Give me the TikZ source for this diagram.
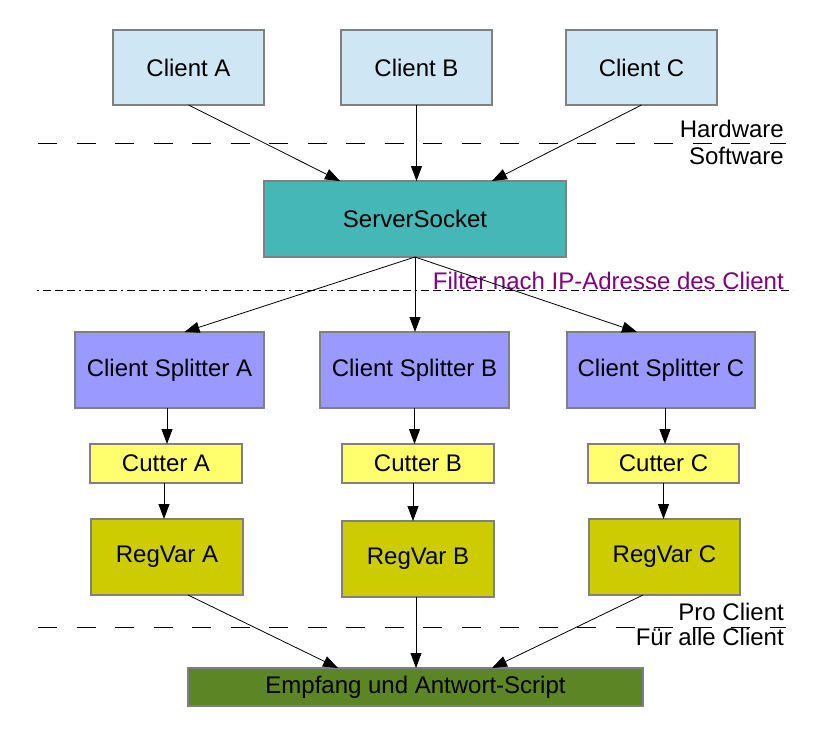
\documentclass[tikz,border=0pt]{standalone}
\usepackage{fontspec}
\setmainfont{Liberation Sans}
\usetikzlibrary{arrows.meta}
\definecolor{clientfill}{HTML}{CFE7F5}
\definecolor{serverfill}{HTML}{45B7B7}
\definecolor{splitfill}{HTML}{9999FF}
\definecolor{cutfill}{HTML}{FFFF6D}
\definecolor{regfill}{HTML}{CCCC00}
\definecolor{scriptfill}{HTML}{5C8526}
\definecolor{boxline}{HTML}{808080}
\definecolor{filtertext}{HTML}{800080}
\begin{document}
\begin{tikzpicture}[x=1pt,y=-1pt,
  font=\fontsize{24pt}{28pt}\selectfont,
  box/.style={draw=boxline,line width=1.2pt,inner sep=0pt,outer sep=0pt,anchor=center},
  clientbox/.style={box,fill=clientfill,minimum width=151pt,minimum height=75pt},
  serverbox/.style={box,fill=serverfill,minimum width=302pt,minimum height=76pt},
  splitbox/.style={box,fill=splitfill,minimum width=189pt,minimum height=76pt},
  cutbox/.style={box,fill=cutfill,minimum width=152pt,minimum height=39pt},
  regbox/.style={box,fill=regfill,minimum width=152pt,minimum height=76pt},
  scriptbox/.style={box,fill=scriptfill,minimum width=455pt,minimum height=38pt},
  conn/.style={line width=0.8pt,-{Triangle[length=15pt,width=11pt]}},
  sepline/.style={line width=0.9pt,dash pattern=on 19pt off 19.5pt},
  filterline/.style={line width=0.9pt,dash pattern=on 2pt off 4pt on 8pt off 4pt on 8pt off 4pt on 8pt off 4pt},
  sidelabel/.style={anchor=base east,inner sep=0pt}
]
\useasboundingbox (0,0) rectangle (824,734);

% layer separators
\coordinate (hwL) at (38,143);
\coordinate (hwR) at (786,143);
\coordinate (ipL) at (37,290);
\coordinate (ipR) at (793,290);
\coordinate (pcL) at (38,627);
\coordinate (pcR) at (786,627);
\draw[sepline] (hwL) -- (hwR);
\draw[filterline] (ipL) -- (ipR);
\draw[sepline] (pcL) -- (pcR);

\node[sidelabel] (hw) at (784,137) {Hardware};
\node[sidelabel] (sw) at (784,164) {Software};
\node[sidelabel,text=filtertext] (flt) at (784,289.5) {Filter nach IP-Adresse des Client};
\node[sidelabel] (pro) at (784,620) {Pro Client};
\node[sidelabel] (all) at (784,645) {Für alle Client};

% clients
\node[clientbox] (clA) at (188.5,67.5) {Client A};
\node[clientbox] (clB) at (416.5,67.5) {Client B};
\node[clientbox] (clC) at (641.5,67.5) {Client C};

% server socket
\node[serverbox] (srv) at (415,219) {ServerSocket};

% per-client chains
\node[splitbox] (spA) at (169.5,370) {Client Splitter A};
\node[splitbox] (spB) at (414.5,370) {Client Splitter B};
\node[splitbox,minimum width=188pt] (spC) at (661,370) {Client Splitter C};

\node[cutbox] (cuA) at (166,463.5) {Cutter A};
\node[cutbox] (cuB) at (418,463.5) {Cutter B};
\node[cutbox,minimum width=151pt] (cuC) at (663.5,463.5) {Cutter C};

\node[regbox] (rvA) at (167,557) {RegVar A};
\node[regbox] (rvB) at (418,559) {RegVar B};
\node[regbox,minimum width=151pt] (rvC) at (664.5,557) {RegVar C};

% common script
\node[scriptbox] (emp) at (415.5,687) {Empfang und Antwort-Script};

% clients -> server
\draw[conn] (clA.south) -- ([xshift=-75pt]srv.north);
\draw[conn] (clB.south) -- (clB.south |- srv.north);
\draw[conn] (clC.south) -- ([xshift=77pt]srv.north);

% server -> splitters
\draw[conn] (srv.south) -- ([xshift=15pt]spA.north);
\draw[conn] (srv.south) -- (srv.south |- spB.north);
\draw[conn] (srv.south) -- ([xshift=-24pt]spC.north);

% splitter -> cutter -> regvar
\draw[conn] ([xshift=-2.5pt]spA.south) -- ([xshift=-2.5pt]spA.south |- cuA.north);
\draw[conn] ([xshift=-2pt]cuA.south) -- ([xshift=-2pt]cuA.south |- rvA.north);
\draw[conn] (spB.south) -- (spB.south |- cuB.north);
\draw[conn] ([xshift=-5pt]cuB.south) -- ([xshift=-5pt]cuB.south |- rvB.north);
\draw[conn] ([xshift=4pt]spC.south) -- ([xshift=4pt]spC.south |- cuC.north);
\draw[conn] (cuC.south) -- (cuC.south |- rvC.north);

% regvars -> script
\draw[conn] ([xshift=21pt]rvA.south) -- ([xshift=-77.5pt]emp.north);
\draw[conn] ([xshift=-2pt]rvB.south) -- ([xshift=-2pt]rvB.south |- emp.north);
\draw[conn] ([xshift=-21.5pt]rvC.south) -- ([xshift=76.5pt]emp.north);
\end{tikzpicture}
\end{document}
